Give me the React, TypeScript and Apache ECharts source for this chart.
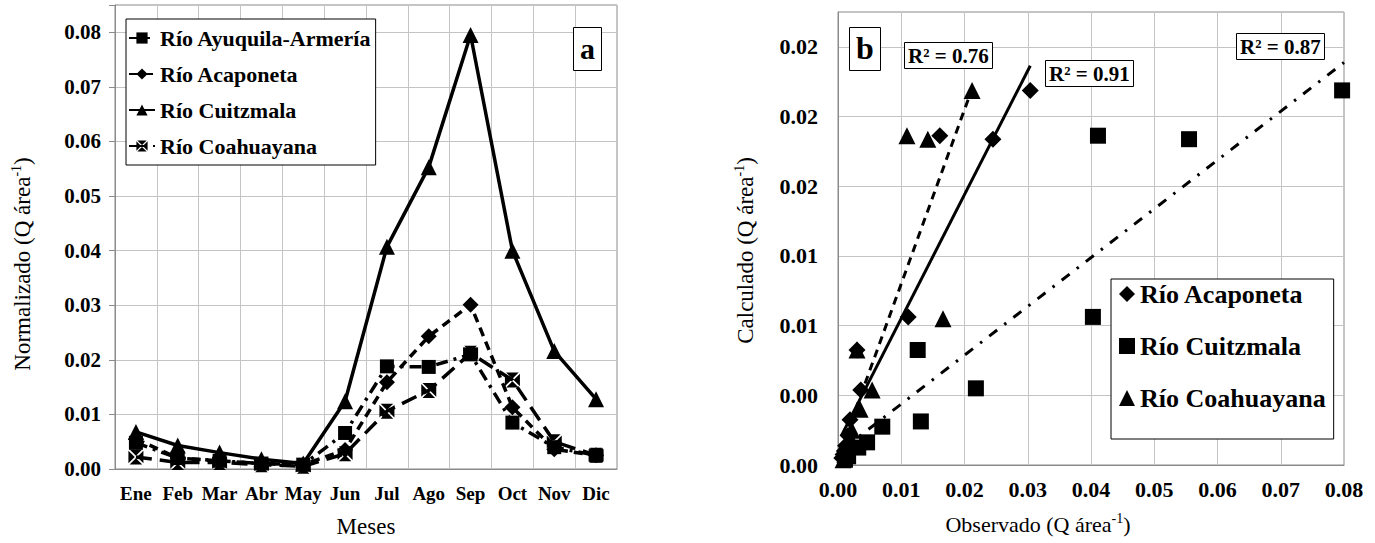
import { useEffect, useRef } from 'react';
import * as echarts from 'echarts';

const FF = "'Liberation Serif', 'Times New Roman', serif";

// Panel a: monthly normalized discharge
const months = ['Ene', 'Feb', 'Mar', 'Abr', 'May', 'Jun', 'Jul', 'Ago', 'Sep', 'Oct', 'Nov', 'Dic'];
const ayuquila = [0.0048, 0.0020, 0.0015, 0.0010, 0.0008, 0.0066, 0.0188, 0.0187, 0.0210, 0.0085, 0.0040, 0.0025];
const acaponeta = [0.0055, 0.0020, 0.0015, 0.0010, 0.0008, 0.0035, 0.0159, 0.0243, 0.0301, 0.0113, 0.0036, 0.0025];
const cuitzmala = [0.0068, 0.0043, 0.0030, 0.0018, 0.0010, 0.0124, 0.0407, 0.0553, 0.0795, 0.0400, 0.0216, 0.0128];
const coahuayana = [0.0022, 0.0012, 0.0012, 0.0008, 0.0005, 0.0028, 0.0106, 0.0144, 0.0212, 0.0163, 0.0050, 0.0025];

// Panel b: observed vs calculated
const acaponetaObs = [0.0304, 0.0245, 0.0161, 0.0111, 0.0030, 0.0036, 0.0019, 0.0016, 0.0012, 0.0008, 0.0006, 0.0010];
const acaponetaCalc = [0.0215, 0.0187, 0.0189, 0.0085, 0.0066, 0.0043, 0.0026, 0.0017, 0.0011, 0.0006, 0.0004, 0.0008];
const cuitzmalaObs = [0.0797, 0.0411, 0.0555, 0.0403, 0.0126, 0.0218, 0.0131, 0.0070, 0.0046, 0.0032, 0.0016, 0.0011];
const cuitzmalaCalc = [0.0215, 0.0189, 0.0187, 0.0085, 0.0066, 0.0044, 0.0025, 0.0022, 0.0013, 0.0010, 0.0005, 0.0003];
const coahuayanaObs = [0.0212, 0.0109, 0.0142, 0.0166, 0.0030, 0.0054, 0.0035, 0.0022, 0.0016, 0.0011, 0.0008, 0.0020];
const coahuayanaCalc = [0.0215, 0.0189, 0.0187, 0.0084, 0.0066, 0.0043, 0.0032, 0.0020, 0.0011, 0.0006, 0.0003, 0.0015];

// Linear trendlines (slope, intercept, x-range) and R²
const trendAcaponeta = { slope: 0.711, intercept: 0.0013, xMin: 0.0005, xMax: 0.0304, r2: '0.91' };
const trendCuitzmala = { slope: 0.280, intercept: 0.0007, xMin: 0.0010, xMax: 0.0800, r2: '0.87' };
const trendCoahuayana = { slope: 1.0, intercept: 0.0004, xMin: 0.0005, xMax: 0.0212, r2: '0.76' };

const xSquare = 'path://M1.6,0L18.4,0L10,8.4Z M20,1.6L20,18.4L11.6,10Z M18.4,20L1.6,20L10,11.6Z M0,18.4L0,1.6L8.4,10Z';

const pairs = (xs: number[], ys: number[]) => xs.map((x, i) => [x, ys[i]]);
const trendPts = (t: { slope: number; intercept: number; xMin: number; xMax: number }) => [
  [t.xMin, t.intercept + t.slope * t.xMin],
  [t.xMax, t.intercept + t.slope * t.xMax],
];

const gridColor = '#c4c4c4';
const axisColor = '#8a8a8a';
const tickFont = { fontFamily: FF, fontWeight: 'bold' as const, color: '#000' };

function nameStyle(size: number, padding?: number[]) {
  return {
    fontFamily: FF,
    fontSize: size,
    color: '#000',
    lineHeight: 26,
    padding: padding || [0, 0, 0, 0],
    rich: { s: { fontFamily: FF, fontSize: 14, color: '#000', verticalAlign: 'top', lineHeight: 14 } },
  };
}

function boxTitle(text: string, left: number, top: number, size: number, padding: number[]) {
  return {
    text,
    left,
    top,
    padding,
    borderWidth: 1,
    borderColor: '#000',
    backgroundColor: '#fff',
    textStyle: { fontFamily: FF, fontSize: size, fontWeight: 'bold', color: '#000' },
  };
}

export default function App() {
  const ref = useRef<HTMLDivElement>(null);
  useEffect(() => {
    const chart = echarts.init(ref.current!, null, { renderer: 'svg' });
    const lineCommon = { type: 'line', xAxisIndex: 0, yAxisIndex: 0, itemStyle: { color: '#000', opacity: 1 }, z: 3 };
    const scatterCommon = { type: 'scatter', xAxisIndex: 1, yAxisIndex: 1, itemStyle: { color: '#000', opacity: 1 }, z: 4 };
    const option: any = {
      animation: false,
      backgroundColor: '#fff',
      title: [
        boxTitle('a', 573, 27, 30, [6, 7, 8, 7]),
        boxTitle('b', 849, 27, 32, [5, 7, 7, 7]),
        boxTitle('R² = ' + trendCoahuayana.r2, 904, 42, 21, [3, 4, 3, 4]),
        boxTitle('R² = ' + trendAcaponeta.r2, 1045, 60, 21, [3, 4, 3, 4]),
        boxTitle('R² = ' + trendCuitzmala.r2, 1236, 33, 21, [3, 4, 3, 4]),
      ],
      grid: [
        { left: 115, top: 5, width: 502, height: 465, show: true, borderColor: axisColor, borderWidth: 1, backgroundColor: 'transparent' },
        { left: 838, top: 12, width: 506, height: 453, show: true, borderColor: axisColor, borderWidth: 1, backgroundColor: 'transparent' },
      ],
      legend: [
        {
          data: ['Río Ayuquila-Armería', 'Río Acaponeta', 'Río Cuitzmala', 'Río Coahuayana'],
          left: 126,
          top: 19,
          orient: 'vertical',
          backgroundColor: '#fff',
          borderColor: '#000',
          borderWidth: 1,
          padding: [8, 4, 8, 2],
          itemGap: 14,
          itemWidth: 26,
          itemHeight: 14,
          selectedMode: false,
          textStyle: { fontFamily: FF, fontSize: 22, fontWeight: 'bold', color: '#000' },
        },
        {
          data: ['Río Acaponeta ', 'Río Cuitzmala ', 'Río Coahuayana '],
          formatter: (n: string) => n.trim(),
          left: 1111,
          top: 279,
          orient: 'vertical',
          backgroundColor: '#fff',
          borderColor: '#000',
          borderWidth: 1,
          padding: [2, 8, 28, 8],
          itemGap: 26,
          itemWidth: 16,
          itemHeight: 16,
          selectedMode: false,
          textStyle: { fontFamily: FF, fontSize: 26, fontWeight: 'bold', color: '#000' },
        },
      ],
      xAxis: [
        {
          type: 'category',
          gridIndex: 0,
          data: months,
          boundaryGap: true,
          axisLine: { lineStyle: { color: axisColor } },
          axisTick: { show: false },
          axisLabel: { ...tickFont, fontSize: 19, margin: 15, interval: 0 },
          splitLine: { show: true, interval: 0, lineStyle: { color: gridColor } },
          name: 'Meses',
          nameLocation: 'middle',
          nameGap: 46,
          nameTextStyle: { fontFamily: FF, fontSize: 23, color: '#000' },
        },
        {
          type: 'value',
          gridIndex: 1,
          min: 0,
          max: 0.08,
          interval: 0.01,
          axisLine: { show: true, lineStyle: { color: axisColor } },
          axisTick: { show: false },
          axisLabel: { ...tickFont, fontSize: 22, margin: 13, formatter: (v: number) => v.toFixed(2) },
          splitLine: { show: true, lineStyle: { color: gridColor } },
          name: 'Observado (Q área{s|-1})',
          nameLocation: 'middle',
          nameGap: 46,
          nameTextStyle: nameStyle(22, [0, 106, 0, 0]),
        },
      ],
      yAxis: [
        {
          type: 'value',
          gridIndex: 0,
          min: 0,
          max: 0.085,
          interval: 0.01,
          axisLine: { show: true, lineStyle: { color: axisColor } },
          axisTick: { show: true, length: 6, lineStyle: { color: axisColor } },
          axisLabel: {
            ...tickFont,
            fontSize: 21,
            margin: 14,
            formatter: (v: number) => (Math.abs(v * 100 - Math.round(v * 100)) < 1e-6 ? v.toFixed(2) : ''),
          },
          splitLine: { show: true, lineStyle: { color: gridColor } },
          name: 'Normalizado (Q área{s|-1})',
          nameLocation: 'middle',
          nameGap: 80,
          nameTextStyle: nameStyle(23, [0, 54, 0, 0]),
        },
        {
          type: 'value',
          gridIndex: 1,
          min: 0,
          max: 0.026,
          interval: 0.004,
          axisLine: { show: true, lineStyle: { color: axisColor } },
          axisTick: { show: false },
          axisLabel: {
            ...tickFont,
            fontSize: 22,
            margin: 20,
            formatter: (v: number) => (Math.abs(v / 0.004 - Math.round(v / 0.004)) < 1e-6 ? v.toFixed(2) : ''),
          },
          splitLine: { show: true, lineStyle: { color: gridColor } },
          name: 'Calculado (Q área{s|-1})',
          nameLocation: 'middle',
          nameGap: 80,
          nameTextStyle: nameStyle(23, [0, 24, 0, 0]),
        },
      ],
      series: [
        {
          ...lineCommon,
          name: 'Río Ayuquila-Armería',
          data: ayuquila,
          symbol: 'rect',
          symbolSize: 14,
          lineStyle: { color: '#000', width: 3.5, type: [12, 6, 3, 6] },
        },
        {
          ...lineCommon,
          name: 'Río Acaponeta',
          data: acaponeta,
          symbol: 'diamond',
          symbolSize: 16,
          lineStyle: { color: '#000', width: 3.5, type: [9, 6] },
        },
        {
          ...lineCommon,
          name: 'Río Cuitzmala',
          data: cuitzmala,
          symbol: 'triangle',
          symbolSize: 16,
          lineStyle: { color: '#000', width: 3.5, type: 'solid' },
        },
        {
          ...lineCommon,
          name: 'Río Coahuayana',
          data: coahuayana,
          symbol: xSquare,
          symbolSize: 15,
          lineStyle: { color: '#000', width: 3.5, type: [16, 8] },
        },
        {
          ...scatterCommon,
          name: 'Río Acaponeta ',
          data: pairs(acaponetaObs, acaponetaCalc),
          symbol: 'diamond',
          symbolSize: 17,
        },
        {
          ...scatterCommon,
          name: 'Río Cuitzmala ',
          data: pairs(cuitzmalaObs, cuitzmalaCalc),
          symbol: 'rect',
          symbolSize: 16,
        },
        {
          ...scatterCommon,
          name: 'Río Coahuayana ',
          data: pairs(coahuayanaObs, coahuayanaCalc),
          symbol: 'triangle',
          symbolSize: 17,
        },
        {
          name: 'trend-acaponeta',
          type: 'line',
          xAxisIndex: 1,
          yAxisIndex: 1,
          data: trendPts(trendAcaponeta),
          symbol: 'none',
          lineStyle: { color: '#000', width: 3, type: 'solid' },
          z: 3,
        },
        {
          name: 'trend-cuitzmala',
          type: 'line',
          xAxisIndex: 1,
          yAxisIndex: 1,
          data: trendPts(trendCuitzmala),
          symbol: 'none',
          lineStyle: { color: '#000', width: 3, type: [10, 9, 2.5, 9] },
          z: 3,
        },
        {
          name: 'trend-coahuayana',
          type: 'line',
          xAxisIndex: 1,
          yAxisIndex: 1,
          data: trendPts(trendCoahuayana),
          symbol: 'none',
          lineStyle: { color: '#000', width: 3, type: [8, 6] },
          z: 3,
        },
      ],
    };
    chart.setOption(option);
    return () => chart.dispose();
  }, []);
  return (
    <div
      ref={ref}
      style={{ position: 'absolute', left: 0, top: 0, width: 1375, height: 543, background: '#fff' }}
    />
  );
}
